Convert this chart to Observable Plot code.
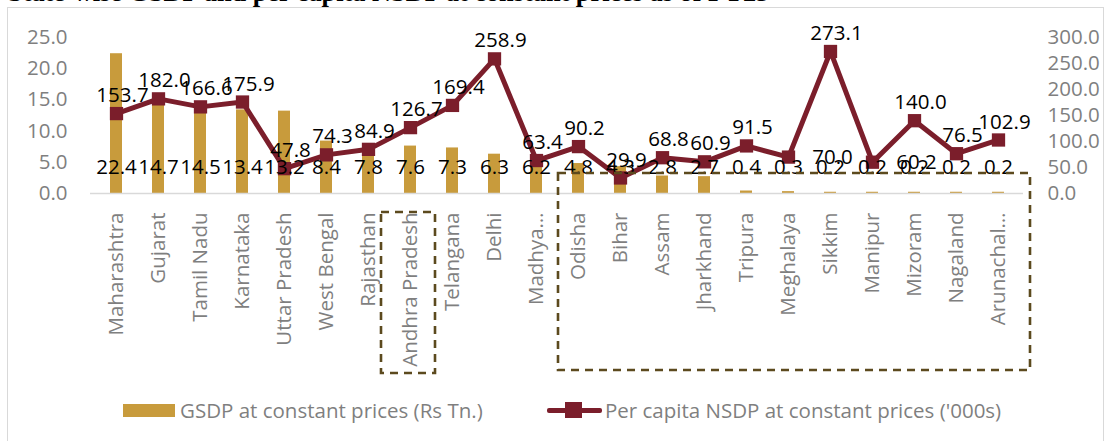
<!DOCTYPE html>
<html><head><meta charset="utf-8">
<script src="https://cdn.jsdelivr.net/npm/d3@7"></script>
<script src="https://cdn.jsdelivr.net/npm/@observablehq/plot@0.6"></script>
<style>
body{margin:0;background:#fff;}
#wrap{position:relative;width:1114px;height:441px;overflow:hidden;font-family:"Open Sans",sans-serif;background:#fff;}
#title{position:absolute;left:8px;top:-20.5px;font:bold 26.3px/26px "Liberation Serif",serif;white-space:nowrap;color:#000;}
#border{position:absolute;left:7px;top:7px;width:1097px;height:440px;border:1.5px solid #d9d9d9;box-sizing:border-box;}
#chart{position:absolute;left:0;top:0;}
.leg{position:absolute;top:397px;height:26px;display:flex;align-items:center;font-size:20.5px;color:#7f7f7f;white-space:nowrap;}
.sw-bar{width:52px;height:13px;background:#c89b3c;margin-right:5px;}
.sw-line{position:relative;width:55px;height:20px;margin-right:3px;}
.sw-line .l{position:absolute;left:0;right:0;top:7.5px;height:5px;background:#7b1e2b;border-radius:2px;}
.sw-line .m{position:absolute;left:18px;top:2px;width:17px;height:16px;background:#7b1e2b;}
</style></head>
<body>
<div id="wrap">
  <div id="title">State-wise GSDP and per capita NSDP at constant prices as of FY23</div>
  <div id="border"></div>
  <div id="chart"></div>
  <div class="leg" style="left:123px"><div class="sw-bar"></div><span>GSDP at constant prices (Rs Tn.)</span></div>
  <div class="leg" style="left:547px"><div class="sw-line"><div class="l"></div><div class="m"></div></div><span>Per capita NSDP at constant prices ('000s)</span></div>
</div>
<script>
const states = ["Maharashtra","Gujarat","Tamil Nadu","Karnataka","Uttar Pradesh","West Bengal","Rajasthan","Andhra Pradesh","Telangana","Delhi","Madhya…","Odisha","Bihar","Assam","Jharkhand","Tripura","Meghalaya","Sikkim","Manipur","Mizoram","Nagaland","Arunachal…"];
const gsdp = [22.4,14.7,14.5,13.4,13.2,8.4,7.8,7.6,7.3,6.3,6.2,4.8,4.3,2.8,2.7,0.4,0.3,0.2,0.2,0.2,0.2,0.2];
const perCapita = [153.7,182.0,166.6,175.9,47.8,74.3,84.9,126.7,169.4,258.9,63.4,90.2,29.9,68.8,60.9,91.5,70.0,273.1,60.2,140.0,76.5,102.9];
const leftTicks = [0,5,10,15,20,25];
const rightTicks = [0,50,100,150,200,250,300];
const rightLabelStates = ["Meghalaya","Manipur"];
const highlightGroups = [
  {from:"Andhra Pradesh", to:"Andhra Pradesh", padL:29, padR:25, top:19, bottom:180},
  {from:"Odisha", to:"Arunachal…", padL:20, padR:32, top:-20, bottom:177}
];

const rows = states.map((s,i)=>({state:s, gsdp:gsdp[i], pc:perCapita[i]}));
const ratio = rightTicks[rightTicks.length-1]/leftTicks[leftTicks.length-1];
const pcY = d => d.pc/ratio;
const GOLD="#c89b3c", MAROON="#7b1e2b", GRAY="#7f7f7f";

const boxes = (index, scales, values, dims) => {
  const x = scales.x, y = scales.y;
  const bw = x.bandwidth ? x.bandwidth() : 0;
  const y0 = y(0);
  const g = d3.create("svg:g");
  for (const b of highlightGroups) {
    const l = x(b.from)+bw/2-b.padL, r = x(b.to)+bw/2+b.padR;
    g.append("rect").attr("x",l).attr("y",y0+b.top).attr("width",r-l).attr("height",b.bottom-b.top)
      .attr("fill","none").attr("stroke","#5c4a1e").attr("stroke-width",2.6).attr("stroke-dasharray","8,6");
  }
  return g.node();
};

const plot = Plot.plot({
  width:1114, height:390, marginTop:37, marginBottom:197, marginLeft:90, marginRight:91,
  x:{domain:states, paddingInner:0.72, paddingOuter:0.36},
  y:{domain:[0,25]},
  style:{fontFamily:"'Open Sans', sans-serif", fontSize:"20px", background:"transparent", overflow:"visible"},
  marks:[
    Plot.barY(rows,{x:"state", y:"gsdp", fill:GOLD}),
    Plot.ruleY([0],{stroke:"#d9d9d9", strokeWidth:1.5}),
    Plot.axisY({anchor:"left", ticks:leftTicks, tickFormat:d=>d.toFixed(1), tickSize:0, tickPadding:23, color:GRAY, fontSize:20.5, label:null}),
    Plot.axisY({anchor:"right", ticks:rightTicks.map(v=>v/ratio), tickFormat:d=>(d*ratio).toFixed(1), tickSize:0, tickPadding:24, color:GRAY, fontSize:20.5, label:null}),
    Plot.axisX({tickRotate:-90, tickSize:0, tickPadding:19, color:GRAY, fontSize:20.5, label:null}),
    Plot.line(rows,{x:"state", y:pcY, stroke:MAROON, strokeWidth:5, strokeLinejoin:"round"}),
    Plot.dot(rows,{x:"state", y:pcY, symbol:"square", r:7.5, fill:MAROON, stroke:"none"}),
    Plot.text(rows,{x:"state", y:()=>0, text:d=>d.gsdp.toFixed(1), dy:-26.5, fontSize:20.5, fill:"#000"}),
    Plot.text(rows.filter(d=>!rightLabelStates.includes(d.state)),{x:"state", y:pcY, text:d=>d.pc.toFixed(1), dy:-18, dx:6, fontSize:20.5, fill:"#000"}),
    Plot.text(rows.filter(d=>rightLabelStates.includes(d.state)),{x:"state", y:pcY, text:d=>d.pc.toFixed(1), dy:0, dx:44, fontSize:20.5, fill:"#000"}),
    boxes
  ]
});
document.getElementById("chart").appendChild(plot);
</script>
</body></html>
